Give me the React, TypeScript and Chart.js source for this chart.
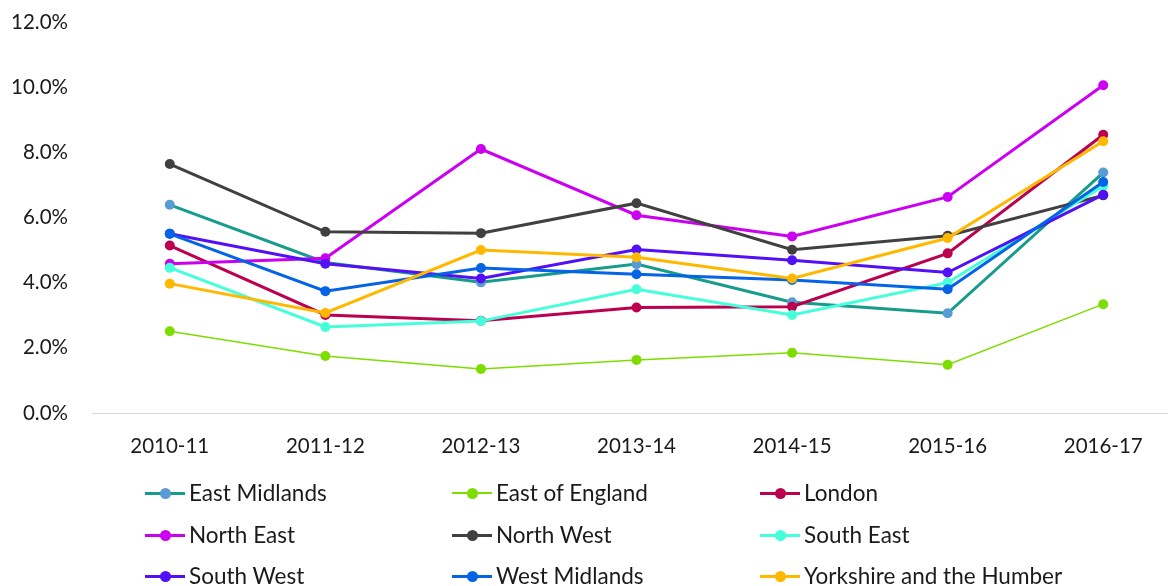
import React, { useEffect, useRef } from 'react';
import { Chart, registerables } from 'chart.js';

Chart.register(...registerables);

const categories = ['2010-11', '2011-12', '2012-13', '2013-14', '2014-15', '2015-16', '2016-17'];
const yTicks = [0, 2, 4, 6, 8, 10, 12];

const eastMidlands = [6.39, 4.62, 4.01, 4.57, 3.40, 3.06, 7.38];
const eastOfEngland = [2.51, 1.75, 1.35, 1.63, 1.85, 1.48, 3.34];
const london = [5.14, 3.01, 2.83, 3.24, 3.26, 4.90, 8.54];
const northEast = [4.58, 4.75, 8.10, 6.07, 5.42, 6.63, 10.06];
const northWest = [7.64, 5.56, 5.52, 6.44, 5.01, 5.44, 6.68];
const southEast = [4.46, 2.64, 2.82, 3.80, 3.01, 4.00, 6.97];
const southWest = [5.50, 4.58, 4.13, 5.02, 4.69, 4.31, 6.70];
const westMidlands = [5.50, 3.74, 4.45, 4.26, 4.08, 3.80, 7.09];
const yorkshire = [3.97, 3.07, 5.00, 4.78, 4.13, 5.37, 8.34];

const seriesNames = [
  'East Midlands', 'East of England', 'London',
  'North East', 'North West', 'South East',
  'South West', 'West Midlands', 'Yorkshire and the Humber',
];
const seriesValues = [eastMidlands, eastOfEngland, london, northEast, northWest, southEast, southWest, westMidlands, yorkshire];
const lineColors = ['#179c8b', '#7ddd00', '#bb0050', '#cc00f0', '#404040', '#44ffd9', '#5310f5', '#0563e6', '#ffb800'];
const pointColors = ['#5b9bd5', '#7ddd00', '#bb0050', '#cc00f0', '#404040', '#44ffd9', '#5310f5', '#0563e6', '#ffb800'];
const lineWidths = [3, 1.5, 3, 3, 3, 3, 3, 3, 3];

const FONT = 'Lato';

export default function App() {
  const ref = useRef<HTMLCanvasElement>(null);

  useEffect(() => {
    const datasets = seriesNames.map((name, i) => ({
      label: name,
      data: seriesValues[i],
      borderColor: lineColors[i],
      backgroundColor: pointColors[i],
      pointBackgroundColor: pointColors[i],
      pointBorderColor: pointColors[i],
      pointRadius: 5,
      pointBorderWidth: 0,
      borderWidth: lineWidths[i],
      tension: 0,
      fill: false,
      order: -i,
    }));
    const chart = new Chart(ref.current!, {
      type: 'line',
      data: { labels: categories, datasets },
      options: {
        responsive: false,
        animation: false,
        layout: { padding: { left: 12, right: 19, top: 22, bottom: 0 } },
        plugins: { legend: { display: false }, tooltip: { enabled: false } },
        scales: {
          x: {
            offset: true,
            grid: { display: false, drawTicks: false, tickLength: 0 },
            border: { display: true, color: '#d9d9d9', width: 1 },
            ticks: { padding: 21, color: '#1a1a1a', font: { family: FONT, size: 20.5 } },
            afterFit: (s: any) => { s.height = 173; s.paddingLeft = 0; s.paddingRight = 0; },
          },
          y: {
            min: 0,
            max: 12,
            afterBuildTicks: (s: any) => { s.ticks = yTicks.map((v) => ({ value: v })); },
            ticks: {
              padding: 24,
              color: '#1a1a1a',
              font: { family: FONT, size: 20.5 },
              callback: (v: any) => Number(v).toFixed(1) + '%',
            },
            grid: { display: false, drawTicks: false, tickLength: 0 },
            border: { display: false },
            afterFit: (s: any) => { s.width = 80; s.paddingTop = 0; s.paddingBottom = 0; },
          },
        },
      },
    });
    return () => chart.destroy();
  }, []);

  const colLeft = [145, 452, 760];
  const rowTop = [493, 535, 576];

  return (
    <div style={{ position: 'absolute', left: 0, top: 0, width: 1168, height: 586, overflow: 'hidden', background: '#fff' }}>
      <canvas ref={ref} width={1200} height={586} style={{ position: 'absolute', left: 0, top: 0 }} />
      {seriesNames.map((name, i) => {
        const left = colLeft[i % 3];
        const cy = rowTop[Math.floor(i / 3)];
        return (
          <div key={name} style={{ position: 'absolute', left, top: cy - 15, height: 30, width: 320 }}>
            <div style={{ position: 'absolute', left: 0, top: 15 - lineWidths[i] / 2, width: 40, height: lineWidths[i], background: lineColors[i] }} />
            <div style={{ position: 'absolute', left: 14.5, top: 9.5, width: 11, height: 11, borderRadius: 5.5, background: pointColors[i] }} />
            <div style={{ position: 'absolute', left: 44, top: 0, lineHeight: '30px', fontFamily: FONT, fontSize: 22.5, color: '#1a1a1a', whiteSpace: 'nowrap' }}>{name}</div>
          </div>
        );
      })}
    </div>
  );
}
